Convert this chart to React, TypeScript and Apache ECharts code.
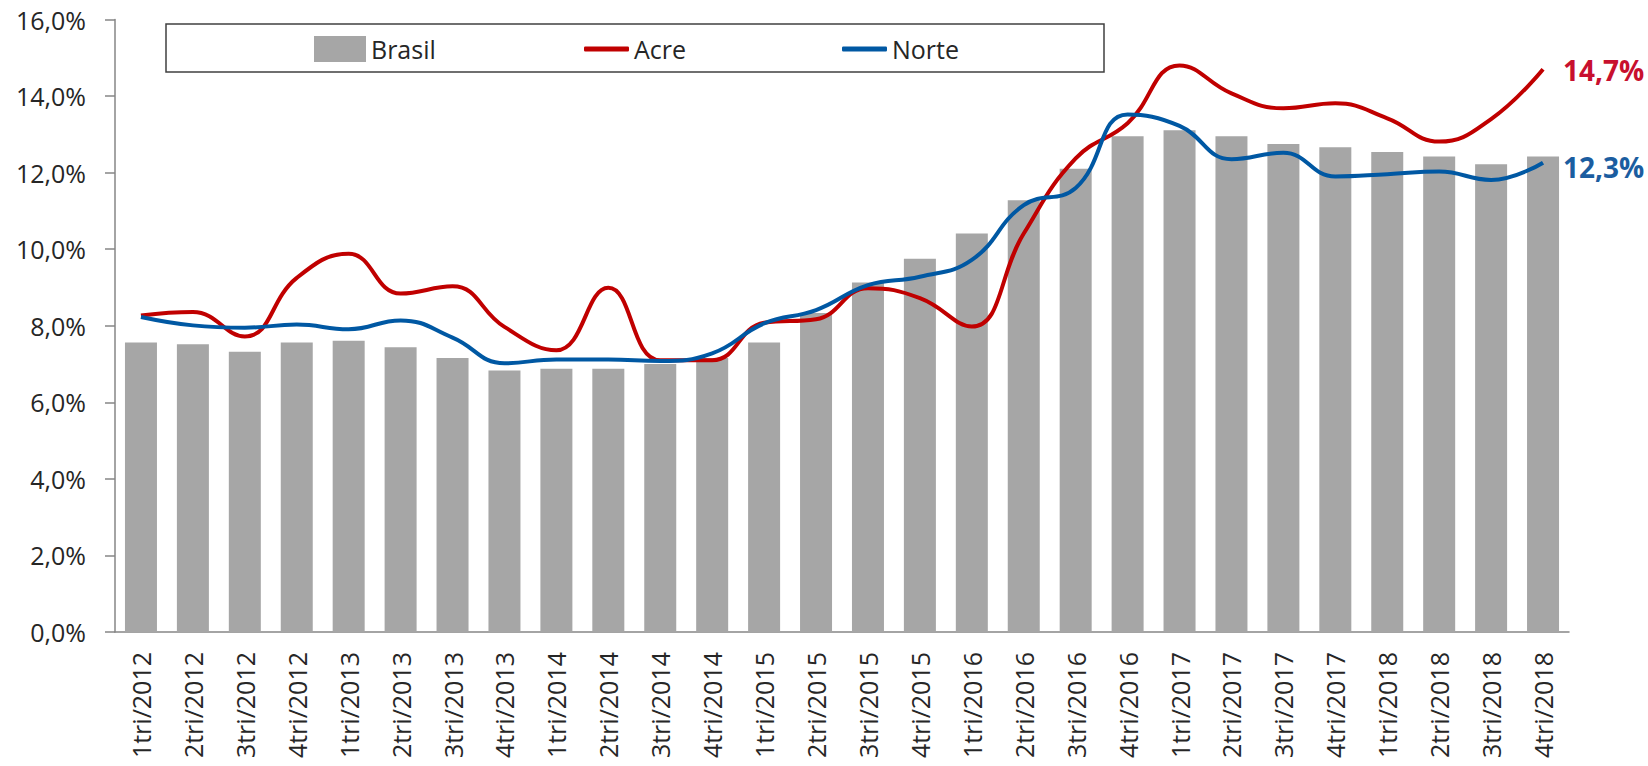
import React, { useEffect, useRef } from "react";
import * as echarts from "echarts";

const categories = [
  "1tri/2012", "2tri/2012", "3tri/2012", "4tri/2012",
  "1tri/2013", "2tri/2013", "3tri/2013", "4tri/2013",
  "1tri/2014", "2tri/2014", "3tri/2014", "4tri/2014",
  "1tri/2015", "2tri/2015", "3tri/2015", "4tri/2015",
  "1tri/2016", "2tri/2016", "3tri/2016", "4tri/2016",
  "1tri/2017", "2tri/2017", "3tri/2017", "4tri/2017",
  "1tri/2018", "2tri/2018", "3tri/2018", "4tri/2018",
];

const brasil = [
  7.56, 7.52, 7.32, 7.56, 7.61, 7.44, 7.16, 6.83, 6.88, 6.88, 7.0, 7.16, 7.56, 8.33,
  9.13, 9.75, 10.41, 11.28, 12.1, 12.95, 13.11, 12.95, 12.75, 12.66, 12.54, 12.42, 12.22, 12.42,
];

const acre = [
  8.27, 8.36, 7.72, 9.25, 9.88, 8.84, 9.03, 7.97, 7.36, 8.99, 7.1, 7.1, 8.08, 8.17,
  8.98, 8.72, 7.98, 10.41, 12.37, 13.29, 14.8, 14.07, 13.68, 13.81, 13.42, 12.81, 13.4, 14.7,
];

const norte = [
  8.23, 8.01, 7.95, 8.03, 7.91, 8.14, 7.69, 7.02, 7.12, 7.12, 7.08, 7.28, 8.06, 8.41,
  9.06, 9.28, 9.72, 11.15, 11.6, 13.52, 13.22, 12.35, 12.52, 11.9, 11.96, 12.03, 11.81, 12.26,
];

const FONT = "Open Sans";
const TEXT = "#262626";
const AXIS = "#868686";

const pct = (v: number) => v.toFixed(1).replace(".", ",") + "%";

export default function App() {
  const ref = useRef<HTMLDivElement>(null);
  useEffect(() => {
    if (!ref.current) return;
    const chart = echarts.init(ref.current, undefined, { renderer: "svg" });
    const legendText = { fontSize: 25, color: TEXT, fontFamily: FONT, lineHeight: 26 };
    chart.setOption({
      animation: false,
      backgroundColor: "#ffffff",
      grid: { left: 115, right: 79, top: 19.5, bottom: 134, containLabel: false },
      graphic: [
        {
          type: "rect",
          z: 0,
          zlevel: 0,
          shape: { x: 166, y: 24, width: 938, height: 48 },
          style: { fill: "#ffffff", stroke: "#404040", lineWidth: 1.5 },
        },
      ],
      legend: [
        {
          data: ["Brasil"],
          left: 314,
          top: 36,
          padding: 0,
          itemWidth: 52,
          itemHeight: 26,
          icon: "rect",
          textStyle: legendText,
          z: 10,
        },
        {
          data: ["Acre"],
          left: 584,
          top: 36,
          padding: 0,
          itemWidth: 45,
          itemHeight: 5,
          icon: "roundRect",
          textStyle: legendText,
          z: 10,
        },
        {
          data: ["Norte"],
          left: 842,
          top: 36,
          padding: 0,
          itemWidth: 45,
          itemHeight: 5,
          icon: "roundRect",
          textStyle: legendText,
          z: 10,
        },
      ],
      xAxis: {
        type: "category",
        data: categories,
        boundaryGap: true,
        axisLine: { show: true, lineStyle: { color: AXIS, width: 1.5 } },
        axisTick: { show: false },
        axisLabel: {
          interval: 0,
          rotate: 90,
          fontSize: 25,
          fontFamily: FONT,
          color: TEXT,
          margin: 20,
        },
        splitLine: { show: false },
      },
      yAxis: {
        type: "value",
        min: 0,
        max: 16,
        interval: 2,
        axisLine: { show: true, lineStyle: { color: AXIS, width: 1.5 } },
        axisTick: { show: true, length: 10, lineStyle: { color: AXIS, width: 1.5 } },
        axisLabel: {
          formatter: (v: number) => pct(v),
          fontSize: 25,
          fontFamily: FONT,
          color: TEXT,
          margin: 29,
        },
        splitLine: { show: false },
      },
      series: [
        {
          name: "Brasil",
          type: "bar",
          data: brasil,
          barWidth: 32,
          itemStyle: { color: "#A6A6A6" },
          z: 2,
        },
        {
          name: "Acre",
          type: "line",
          data: acre,
          smooth: 0.45,
          smoothConstraint: false,
          symbol: "none",
          lineStyle: { color: "#C00000", width: 4 },
          itemStyle: { color: "#C00000" },
          z: 3,
          endLabel: {
            show: true,
            formatter: (p: any) => pct(p.value),
            color: "#C8102E",
            fontWeight: "bold",
            fontSize: 28,
            fontFamily: FONT,
            distance: 20,
            offset: [0, 1],
          },
        },
        {
          name: "Norte",
          type: "line",
          data: norte,
          smooth: 0.45,
          smoothConstraint: false,
          symbol: "none",
          lineStyle: { color: "#0058A3", width: 4 },
          itemStyle: { color: "#0058A3" },
          z: 4,
          endLabel: {
            show: true,
            formatter: (p: any) => pct(p.value),
            color: "#1B5DA0",
            fontWeight: "bold",
            fontSize: 28,
            fontFamily: FONT,
            distance: 20,
            offset: [0, 4],
          },
        },
      ],
    });
    return () => chart.dispose();
  }, []);
  return (
    <div
      ref={ref}
      style={{ position: "fixed", left: 0, top: 0, width: 1648, height: 766, background: "#fff" }}
    />
  );
}
